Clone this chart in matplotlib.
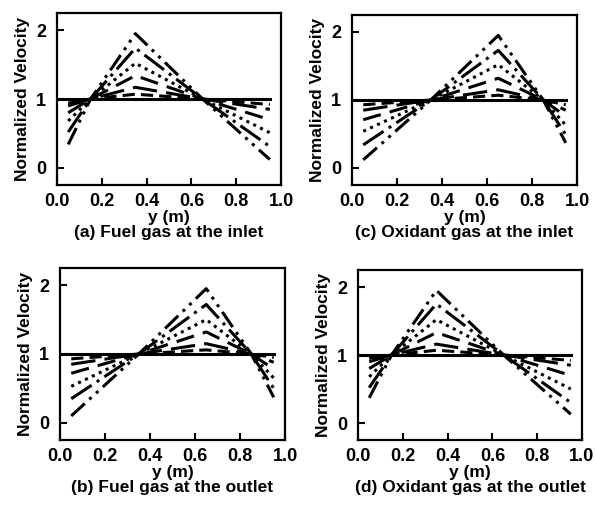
import matplotlib
matplotlib.use("Agg")
import matplotlib.pyplot as plt

plt.rcParams['font.family'] = ['Liberation Sans', 'DejaVu Sans']
plt.rcParams['font.weight'] = 'bold'

# x positions of the profile break points (m)
x_fuel_in = [0.05, 0.15, 0.35, 0.65, 0.95]
x_oxid_in = [0.05, 0.35, 0.65, 0.85, 0.95]
x_uniform = [0.0, 0.95]
v_uniform = [1.0, 1.0]

# (a) Fuel gas at the inlet - one list per profile
a_profiles = [
    [0.34, 1.0, 1.95, 1.0, 0.12],
    [0.52, 1.0, 1.74, 1.0, 0.31],
    [0.68, 1.0, 1.52, 1.0, 0.51],
    [0.80, 1.0, 1.34, 1.0, 0.70],
    [0.90, 1.0, 1.17, 1.0, 0.85],
    [0.94, 1.0, 1.07, 1.0, 0.92],
]

# (c) Oxidant gas at the inlet
c_profiles = [
    [0.12, 1.0, 1.95, 1.0, 0.37],
    [0.34, 1.0, 1.73, 1.0, 0.49],
    [0.54, 1.0, 1.52, 1.0, 0.63],
    [0.71, 1.0, 1.32, 1.0, 0.76],
    [0.85, 1.0, 1.15, 1.0, 0.85],
    [0.93, 1.0, 1.07, 1.0, 0.93],
]

# (b) Fuel gas at the outlet
b_profiles = [
    [0.10, 1.0, 1.95, 1.0, 0.37],
    [0.35, 1.0, 1.72, 1.0, 0.50],
    [0.53, 1.0, 1.50, 1.0, 0.65],
    [0.72, 1.0, 1.32, 1.0, 0.78],
    [0.85, 1.0, 1.15, 1.0, 0.88],
    [0.93, 1.0, 1.06, 1.0, 0.95],
]

# (d) Oxidant gas at the outlet
d_profiles = [
    [0.37, 1.0, 1.95, 1.0, 0.13],
    [0.52, 1.0, 1.75, 1.0, 0.30],
    [0.68, 1.0, 1.52, 1.0, 0.50],
    [0.80, 1.0, 1.33, 1.0, 0.70],
    [0.90, 1.0, 1.16, 1.0, 0.85],
    [0.95, 1.0, 1.07, 1.0, 0.92],
]

captions = ["(a) Fuel gas at the inlet", "(c) Oxidant gas at the inlet",
            "(b) Fuel gas at the outlet", "(d) Oxidant gas at the outlet"]

styles = [(0, (6, 2, 1, 2, 1, 2)), (0, (8, 2, 1, 2)), (0, (1, 1.5)),
          (0, (6, 3)), (0, (8, 3)), (0, (4, 2))]

W, H = 595, 512
fig = plt.figure(figsize=(W / 100, H / 100), dpi=100, facecolor='white')

# panel boxes in pixels: left, right, top, bottom
boxes = [(57, 281, 13, 185), (352, 577, 15, 185),
         (60, 285, 268, 440), (358, 582, 270, 440)]
panels = [(x_fuel_in, a_profiles), (x_oxid_in, c_profiles),
          (x_oxid_in, b_profiles), (x_fuel_in, d_profiles)]

for (l, r, t, b), (xs, profs), cap in zip(boxes, panels, captions):
    ax = fig.add_axes([l / W, 1 - b / H, (r - l) / W, (b - t) / H])
    for prof, ls in zip(profs, styles):
        ax.plot(xs, prof, color='black', lw=2.2, linestyle=ls)
    ax.plot(x_uniform, v_uniform, color='black', lw=2.2)
    ax.set_xlim(0, 1)
    ax.set_ylim(-0.25, 2.25)
    ax.set_xticks([0.0, 0.2, 0.4, 0.6, 0.8, 1.0])
    ax.set_xticklabels(['0.0', '0.2', '0.4', '0.6', '0.8', '1.0'])
    ax.set_yticks([0, 1, 2])
    ax.tick_params(direction='in', length=5, width=1.5, labelsize=13,
                   top=False, right=False)
    ax.tick_params(axis='x', pad=6)
    ax.tick_params(axis='y', pad=8)
    for lab in ax.get_xticklabels() + ax.get_yticklabels():
        lab.set_fontweight('bold')
    for s in ax.spines.values():
        s.set_linewidth(1.6)
    ax.set_ylabel("Normalized Velocity", fontsize=12.5, fontweight='bold', labelpad=4)
    ax.set_xlabel("y (m)\n" + cap, fontsize=12.5, fontweight='bold',
                  labelpad=0, linespacing=1.0)

fig.savefig("out.png", dpi=100)
